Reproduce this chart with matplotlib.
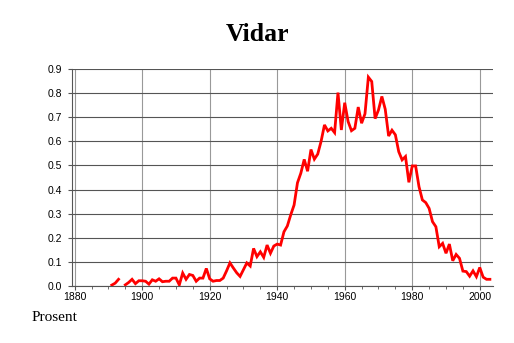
import numpy as np
import matplotlib
matplotlib.use('Agg')
import matplotlib.pyplot as plt
from matplotlib.ticker import MultipleLocator

# Data (andel i prosent per år, lest av figuren)
years = np.arange(1891, 2004)
values = [
    0.004, 0.012, 0.028, np.nan, 0.005, 0.015, 0.028, 0.010, 0.022,   # 1891-1899
    0.022, 0.020, 0.008, 0.026, 0.020, 0.030, 0.018, 0.020, 0.020, 0.033,  # 1900-1909
    0.033, 0.005, 0.054, 0.028, 0.048, 0.044, 0.020, 0.033, 0.033, 0.073,  # 1910-1919
    0.030, 0.020, 0.023, 0.023, 0.033, 0.063, 0.096, 0.075, 0.055, 0.040,  # 1920-1929
    0.068, 0.096, 0.083, 0.156, 0.122, 0.142, 0.119, 0.170, 0.136, 0.166,  # 1930-1939
    0.174, 0.170, 0.225, 0.249, 0.295, 0.336, 0.428, 0.468, 0.525, 0.476,  # 1940-1949
    0.566, 0.526, 0.547, 0.600, 0.668, 0.643, 0.654, 0.636, 0.802, 0.647,  # 1950-1959
    0.760, 0.682, 0.644, 0.654, 0.742, 0.675, 0.714, 0.866, 0.848, 0.694,  # 1960-1969
    0.730, 0.786, 0.733, 0.622, 0.646, 0.627, 0.557, 0.523, 0.537, 0.430,  # 1970-1979
    0.498, 0.498, 0.412, 0.357, 0.346, 0.322, 0.267, 0.246, 0.163, 0.177,  # 1980-1989
    0.136, 0.174, 0.105, 0.131, 0.115, 0.062, 0.060, 0.041, 0.063, 0.039,  # 1990-1999
    0.077, 0.037, 0.028, 0.028,                                            # 2000-2003
]

title = 'Vidar'
ylabel = 'Prosent'
xticks = [1880, 1900, 1920, 1940, 1960, 1980, 2000]
yticks = np.arange(0, 0.91, 0.1)

fig = plt.figure(figsize=(5.14, 3.43), dpi=100)
ax = fig.add_axes([0.140, 0.166, 0.819, 0.633])

ax.plot(years, values, color='#ff0000', linewidth=2.0, solid_joinstyle='miter', zorder=3)

ax.set_xlim(1879.2, 2003.9)
ax.set_ylim(0, 0.9)
ax.set_xticks(xticks)
ax.set_yticks(yticks)
ax.set_yticklabels([f'{v:.1f}' for v in yticks])
ax.xaxis.set_minor_locator(MultipleLocator(5))

ax.grid(axis='y', color='#555555', linewidth=0.8)
ax.grid(axis='x', color='#999999', linewidth=0.8)
ax.set_axisbelow(True)

for side in ['top', 'right']:
    ax.spines[side].set_visible(False)
for side in ['left', 'bottom']:
    ax.spines[side].set_color('#555555')
    ax.spines[side].set_linewidth(0.8)

ax.tick_params(axis='both', which='major', labelsize=7.5, length=3, color='#555555', pad=1)
ax.tick_params(axis='y', which='major', pad=4)
ax.tick_params(axis='x', which='minor', length=2, color='#555555')
for lab in ax.get_xticklabels() + ax.get_yticklabels():
    lab.set_family('Liberation Sans')

fig.text(0.5, 0.90, title, ha='center', va='center', fontsize=18.5, fontweight='bold',
         family='Liberation Serif')
fig.text(0.062, 0.073, ylabel, ha='left', va='center', fontsize=11, family='Liberation Serif')

fig.savefig('out.png', dpi=100)
